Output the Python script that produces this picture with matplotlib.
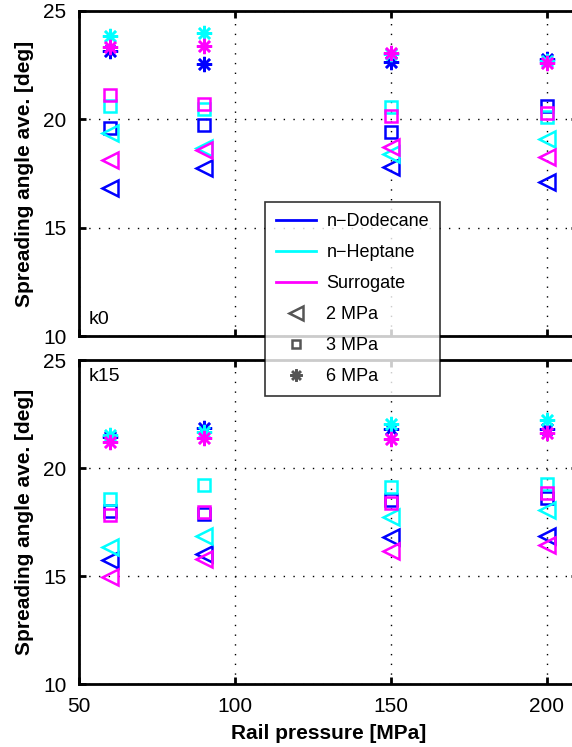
import numpy as np
import matplotlib.pyplot as plt
from matplotlib.lines import Line2D

plt.rcParams['font.family'] = ['Liberation Sans', 'DejaVu Sans']

# Rail pressure [MPa]
rail = [60, 90, 150, 200]

# k0 nozzle: spreading angle [deg] per fuel and ambient pressure
k0_dod_2 = [16.85, 17.75, 17.8, 17.1]
k0_dod_3 = [19.6, 19.75, 19.4, 20.6]
k0_dod_6 = [23.15, 22.55, 22.66, 22.8]
k0_hep_2 = [19.35, 18.7, 18.4, 19.1]
k0_hep_3 = [20.6, 20.5, 20.58, 20.1]
k0_hep_6 = [23.85, 24.0, 23.0, 22.7]
k0_sur_2 = [18.1, 18.6, 18.74, 18.25]
k0_sur_3 = [21.12, 20.7, 20.17, 20.3]
k0_sur_6 = [23.35, 23.4, 23.08, 22.58]

# k15 nozzle
k15_dod_2 = [15.74, 16.0, 16.79, 16.87]
k15_dod_3 = [18.0, 17.87, 18.5, 18.6]
k15_dod_6 = [21.45, 21.87, 21.8, 21.8]
k15_hep_2 = [16.36, 16.85, 17.75, 18.05]
k15_hep_3 = [18.56, 19.2, 19.13, 19.26]
k15_hep_6 = [21.53, 21.68, 22.02, 22.22]
k15_sur_2 = [14.97, 15.77, 16.17, 16.44]
k15_sur_3 = [17.82, 17.97, 18.39, 18.86]
k15_sur_6 = [21.19, 21.37, 21.34, 21.6]

fuels = ['n\u2212Dodecane', 'n\u2212Heptane', 'Surrogate']
colors = ['#0000ff', '#00ffff', '#ff00ff']
pressures = ['2 MPa', '3 MPa', '6 MPa']
star = (8, 2, 0)
markers = ['<', 's', star]
msizes = [12, 8, 11]

k0 = [[k0_dod_2, k0_dod_3, k0_dod_6],
      [k0_hep_2, k0_hep_3, k0_hep_6],
      [k0_sur_2, k0_sur_3, k0_sur_6]]
k15 = [[k15_dod_2, k15_dod_3, k15_dod_6],
       [k15_hep_2, k15_hep_3, k15_hep_6],
       [k15_sur_2, k15_sur_3, k15_sur_6]]

fig = plt.figure(figsize=(5.72, 7.47), dpi=100)
left = 79 / 572
width = 499 / 572  # axes run past the right edge (xlim up to 210)
ax1 = fig.add_axes([left, 1 - 336 / 747, width, 325 / 747])
ax2 = fig.add_axes([left, 1 - 684 / 747, width, 324 / 747])

for ax, data, tag in [(ax1, k0, 'k0'), (ax2, k15, 'k15')]:
    for fi in range(3):
        for pi in range(3):
            ax.plot(rail, data[fi][pi], linestyle='none', marker=markers[pi],
                    markersize=msizes[pi], markerfacecolor='none',
                    markeredgecolor=colors[fi], markeredgewidth=1.8)
    ax.set_xlim(50, 210)
    ax.set_ylim(10, 25)
    ax.set_xticks([50, 100, 150, 200])
    ax.set_yticks([10, 15, 20, 25])
    ax.grid(True, linestyle=(0, (1, 6)), color='black', linewidth=1.0)
    ax.tick_params(direction='in', length=5, width=2, top=True, right=True,
                   labelsize=15, pad=9)
    for s in ax.spines.values():
        s.set_linewidth(2)
    ax.set_ylabel('Spreading angle ave. [deg]', fontsize=15, fontweight='bold')
    ax.yaxis.set_label_coords(-45 / 499, 0.5)
    if tag == 'k0':
        ax.text(0.02, 0.025, tag, transform=ax.transAxes, fontsize=14,
                ha='left', va='bottom')
    else:
        ax.text(0.02, 0.975, tag, transform=ax.transAxes, fontsize=14,
                ha='left', va='top')

ax1.tick_params(labelbottom=False)
ax2.set_xlabel('Rail pressure [MPa]', fontsize=15, fontweight='bold',
               labelpad=6)

handles = [Line2D([], [], color=c, linewidth=2) for c in colors]
handles += [Line2D([], [], linestyle='none', marker=m, markersize=s * 0.8,
                   markerfacecolor='none', markeredgecolor='#555555',
                   markeredgewidth=1.8)
            for m, s in zip(markers, msizes)]
leg = fig.legend(handles, fuels + pressures, loc='upper left',
                 bbox_to_anchor=(265 / 572, 1 - 202 / 747), fontsize=13,
                 frameon=True, fancybox=False, edgecolor='black',
                 handlelength=2.2, handletextpad=0.6, labelspacing=0.78,
                 borderpad=0.6, borderaxespad=0)
leg.get_frame().set_linewidth(1.2)

fig.savefig('out.png', dpi=100)
